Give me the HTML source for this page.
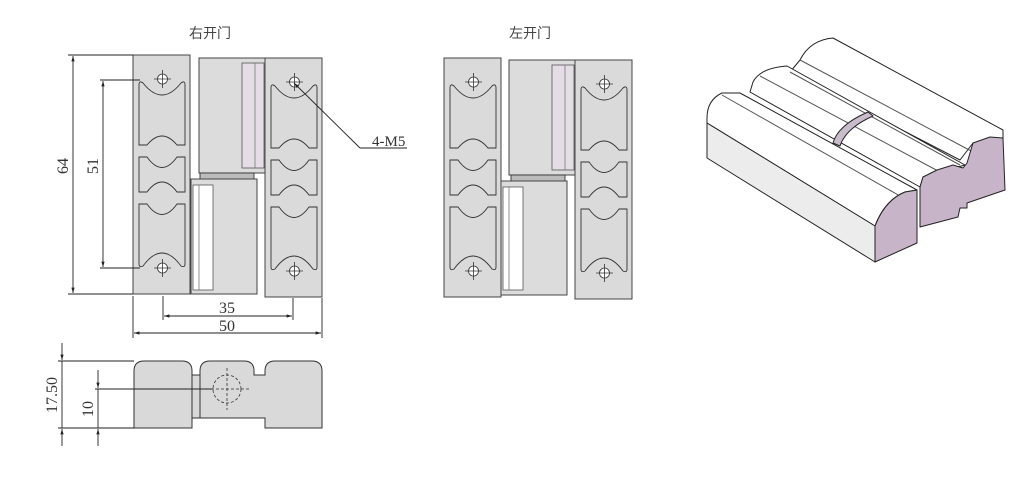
<!DOCTYPE html>
<html><head><meta charset="utf-8"><style>
html,body{margin:0;padding:0;background:#fff;}
svg{display:block;}
text{font-family:"Liberation Serif","Noto Serif CJK SC",serif;fill:#333;}
.cjk{font-family:"Liberation Sans","Noto Sans CJK SC",sans-serif;font-size:14px;fill:#444;}
</style></head><body>
<svg width="1024" height="489" viewBox="0 0 1024 489" xmlns="http://www.w3.org/2000/svg">
<defs>
<marker id="ar" viewBox="0 0 10 10" refX="10" refY="5" markerWidth="9" markerHeight="6" orient="auto-start-reverse"><path d="M0,2 L10,5 L0,8 Z" fill="#222"/></marker>
<g id="plate">
  <rect x="0" y="0" width="57" height="239" fill="#dadada" stroke="#444" stroke-width="1"/>
  <g fill="#dadada" stroke="#333" stroke-width="0.9">
   <path d="M6,90 L6,30 Q6,25 10,28 Q29,52 48,28 Q52,25 52,30 L52,90 L44,90 Q29,72 14,90 Z"/>
   <path d="M6,102 L14,102 Q29,123 44,102 L52,102 L52,137 L44,137 Q29,117 14,137 L6,137 Z"/>
   <path d="M6,149 L14,149 Q29,170 44,149 L52,149 L52,209 Q52,213 48,211 Q29,185 10,211 Q6,213 6,209 Z"/>
  </g>
  <g stroke="#333" stroke-width="0.8" fill="#fff">
   <circle cx="29.5" cy="24" r="5"/><circle cx="29.5" cy="213" r="5"/>
  </g>
  <g stroke="#333" stroke-width="0.8">
   <line x1="29.5" y1="15" x2="29.5" y2="33"/><line x1="21" y1="24" x2="38" y2="24"/>
   <line x1="29.5" y1="204" x2="29.5" y2="222"/><line x1="21" y1="213" x2="38" y2="213"/>
  </g>
</g>
</defs>

<!-- 右开门 -->
<text class="cjk" x="210" y="38" text-anchor="middle">右开门</text>
<rect x="199" y="58" width="66" height="115" fill="#dcdcdc" stroke="#444"/>
<rect x="242" y="63" width="22" height="105" fill="#e4dde6" stroke="#555" stroke-width="0.8"/>
<line x1="255" y1="63" x2="255" y2="168" stroke="#777" stroke-width="0.8"/>
<rect x="200" y="173" width="54" height="6" fill="#bbb" stroke="#333" stroke-width="0.9"/>
<rect x="191" y="179" width="66" height="115" fill="#dcdcdc" stroke="#444"/>
<rect x="193" y="185" width="20" height="105" fill="#fff" stroke="#555" stroke-width="0.8"/>
<line x1="199" y1="185" x2="199" y2="290" stroke="#777" stroke-width="0.8"/>
<use href="#plate" x="133" y="55"/>
<use href="#plate" x="265" y="58"/>

<g stroke="#222" stroke-width="0.9" fill="none">
 <line x1="68" y1="55" x2="133" y2="55"/><line x1="68" y1="294" x2="133" y2="294"/>
 <line x1="73" y1="56" x2="73" y2="293" marker-start="url(#ar)" marker-end="url(#ar)"/>
 <line x1="100" y1="80" x2="140" y2="80"/><line x1="100" y1="268" x2="140" y2="268"/>
 <line x1="103" y1="81" x2="103" y2="267" marker-start="url(#ar)" marker-end="url(#ar)"/>
 <line x1="163" y1="296" x2="163" y2="320"/><line x1="293" y1="298" x2="293" y2="320"/>
 <line x1="164" y1="316" x2="292" y2="316" marker-start="url(#ar)" marker-end="url(#ar)"/>
 <line x1="133" y1="296" x2="133" y2="338"/><line x1="322" y1="298" x2="322" y2="338"/>
 <line x1="134" y1="333" x2="321" y2="333" marker-start="url(#ar)" marker-end="url(#ar)"/>
 <line x1="360" y1="148" x2="294" y2="83" marker-end="url(#ar)"/>
 <line x1="360" y1="148" x2="407" y2="148"/>
</g>
<text x="63" y="166" font-size="16" text-anchor="middle" transform="rotate(-90 63 166)" dy="5">64</text>
<text x="93" y="166" font-size="16" text-anchor="middle" transform="rotate(-90 93 166)" dy="5">51</text>
<text x="227" y="313" font-size="16" text-anchor="middle">35</text>
<text x="227" y="331" font-size="16" text-anchor="middle">50</text>
<text x="372" y="146" font-size="15">4-M5</text>

<!-- 左开门 -->
<text class="cjk" x="530" y="38" text-anchor="middle">左开门</text>
<rect x="509" y="60" width="66" height="115" fill="#dcdcdc" stroke="#444"/>
<rect x="552" y="65" width="22" height="105" fill="#e4dde6" stroke="#555" stroke-width="0.8"/>
<line x1="565" y1="65" x2="565" y2="170" stroke="#777" stroke-width="0.8"/>
<rect x="511" y="175" width="54" height="6" fill="#bbb" stroke="#333" stroke-width="0.9"/>
<rect x="501" y="181" width="66" height="114" fill="#dcdcdc" stroke="#444"/>
<rect x="503" y="187" width="20" height="103" fill="#fff" stroke="#555" stroke-width="0.8"/>
<line x1="509" y1="187" x2="509" y2="290" stroke="#777" stroke-width="0.8"/>
<use href="#plate" x="444" y="58"/>
<use href="#plate" x="575" y="60"/>

<!-- bottom view -->
<g stroke="#333" stroke-width="1" fill="#d9d9d9">
 <rect x="192" y="375" width="8" height="43"/>
 <path d="M134,428 L134,371 Q134,361 144,361 L182,361 Q192,361 192,371 L192,428 Z"/>
 <path d="M200,418 L200,371 Q200,361 210,361 L244,361 Q254,361 254,371 L254,375 L265,375 L265,371 Q265,361 275,361 L312,361 Q322,361 322,371 L322,428 L265,428 L265,418 Z"/>
</g>
<g stroke="#333" stroke-width="0.8" fill="none" stroke-dasharray="3,2">
 <circle cx="227" cy="389" r="14"/>
 <line x1="227" y1="368" x2="227" y2="410"/><line x1="206" y1="389" x2="250" y2="389"/>
</g>
<g stroke="#222" stroke-width="0.9" fill="none">
 <line x1="58" y1="361" x2="134" y2="361"/><line x1="58" y1="428" x2="134" y2="428"/>
 <line x1="62" y1="343" x2="62" y2="360" marker-end="url(#ar)"/>
 <line x1="62" y1="446" x2="62" y2="429" marker-end="url(#ar)"/>
 <line x1="62" y1="361" x2="62" y2="428"/>
 <line x1="95" y1="389" x2="213" y2="389"/>
 <line x1="98" y1="370" x2="98" y2="388" marker-end="url(#ar)"/>
 <line x1="98" y1="446" x2="98" y2="429" marker-end="url(#ar)"/>
 <line x1="98" y1="389" x2="98" y2="428"/>
</g>
<text x="52" y="395" font-size="16" text-anchor="middle" transform="rotate(-90 52 395)" dy="5">17.50</text>
<text x="88" y="409" font-size="16" text-anchor="middle" transform="rotate(-90 88 409)" dy="5">10</text>

<!-- isometric view -->
<g stroke="#222" stroke-width="1" stroke-linejoin="round">
 <path d="M800,60 Q810,40 833,38 L1003,130 L1003,138 L973,143 L960,160 L790,72 Z" fill="#fff"/>
 <path d="M753,82 Q760,68 787,66 L965,165 L940,172 L923,177 L920,187 L750,92 Z" fill="#fff"/>
 <line x1="790" y1="72" x2="960" y2="165" stroke="#555"/>
 <line x1="800" y1="60" x2="973" y2="152" stroke="#555"/>
 <line x1="760" y1="76" x2="940" y2="172" stroke="#555"/>
 <path d="M833,143 Q838,125 868,112 L873,116 Q846,128 840,146 Z" fill="#c9bccb"/>
 <path d="M920,187 L923,177 L937,170 L953,165 L963,168 L967,163 L973,143 L990,137 L1003,138 L1005,190 L967,203 L967,208 L960,208 L958,217 L920,227 Z" fill="#c8b4c9"/>
 <path d="M707,118 Q707,100 722,93 L740,93 L917,190 L905,192 Q885,200 875,226 L707,123 Z" fill="#fff"/>
 <line x1="722" y1="95" x2="900" y2="196" stroke="#555"/>
 <path d="M707,123 L875,226 L875,262 L707,158 Z" fill="#ececec"/>
 <path d="M875,226 Q885,200 905,192 L917,190 L917,243 L875,262 Z" fill="#c8b4c9"/>
</g>
</svg>
</body></html>
